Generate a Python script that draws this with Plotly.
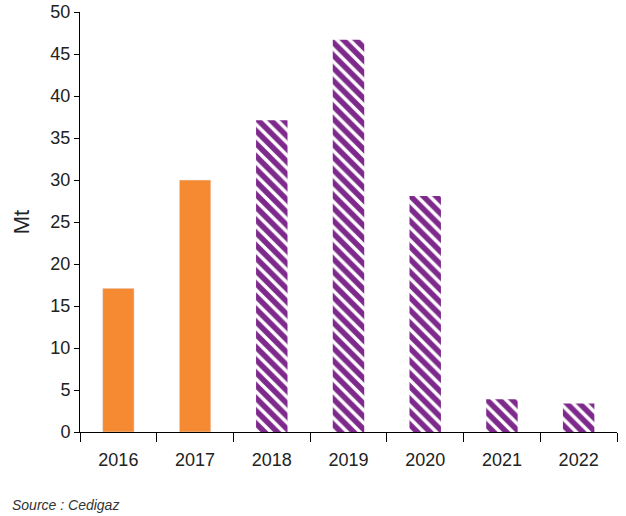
import plotly.graph_objects as go

years = ["2016", "2017", "2018", "2019", "2020", "2021", "2022"]
actual = [17.1, 30.0, None, None, None, None, None]
projected = [None, None, 37.1, 46.7, 28.1, 3.9, 3.4]

orange = "#F58A33"
purple = "#7E2A8C"

fig = go.Figure()
fig.add_trace(go.Bar(x=years, y=actual, marker_color=orange, name="Actual"))
fig.add_trace(go.Bar(
    x=years, y=projected, name="Projected",
    marker=dict(color=purple, line_width=0,
                pattern=dict(shape="\\", fgcolor="white", bgcolor=purple,
                             fgopacity=1, size=9, solidity=0.38,
                             fillmode="replace")),
))

fig.update_layout(
    width=626, height=516,
    margin=dict(l=80, r=9, t=12, b=84, autoexpand=False),
    barmode="overlay", bargap=0.59,
    showlegend=False,
    plot_bgcolor="white", paper_bgcolor="white",
    font=dict(family="Liberation Sans, Arial, sans-serif", size=18, color="#222"),
    annotations=[dict(text="<i>Source : Cedigaz</i>",
                      xref="paper", yref="paper", x=-0.131, y=-0.174,
                      xanchor="left", yanchor="middle", showarrow=False,
                      font=dict(size=14, color="#333"))],
)
fig.update_xaxes(showline=True, linecolor="black", linewidth=1,
                 ticks="outside", tickson="boundaries", ticklen=9,
                 tickcolor="black", showgrid=False, ticklabelstandoff=11)
fig.update_yaxes(range=[0, 50], dtick=5, showline=True, linecolor="black",
                 linewidth=1, ticks="outside", ticklen=5, tickcolor="black",
                 showgrid=False, zeroline=False,
                 title=dict(text="Mt", standoff=14))

# drop the browser's default body margin so the figure sits at the corner
fig.write_html("out.html", config={"displayModeBar": False},
               post_script="document.body.style.margin='0';")
